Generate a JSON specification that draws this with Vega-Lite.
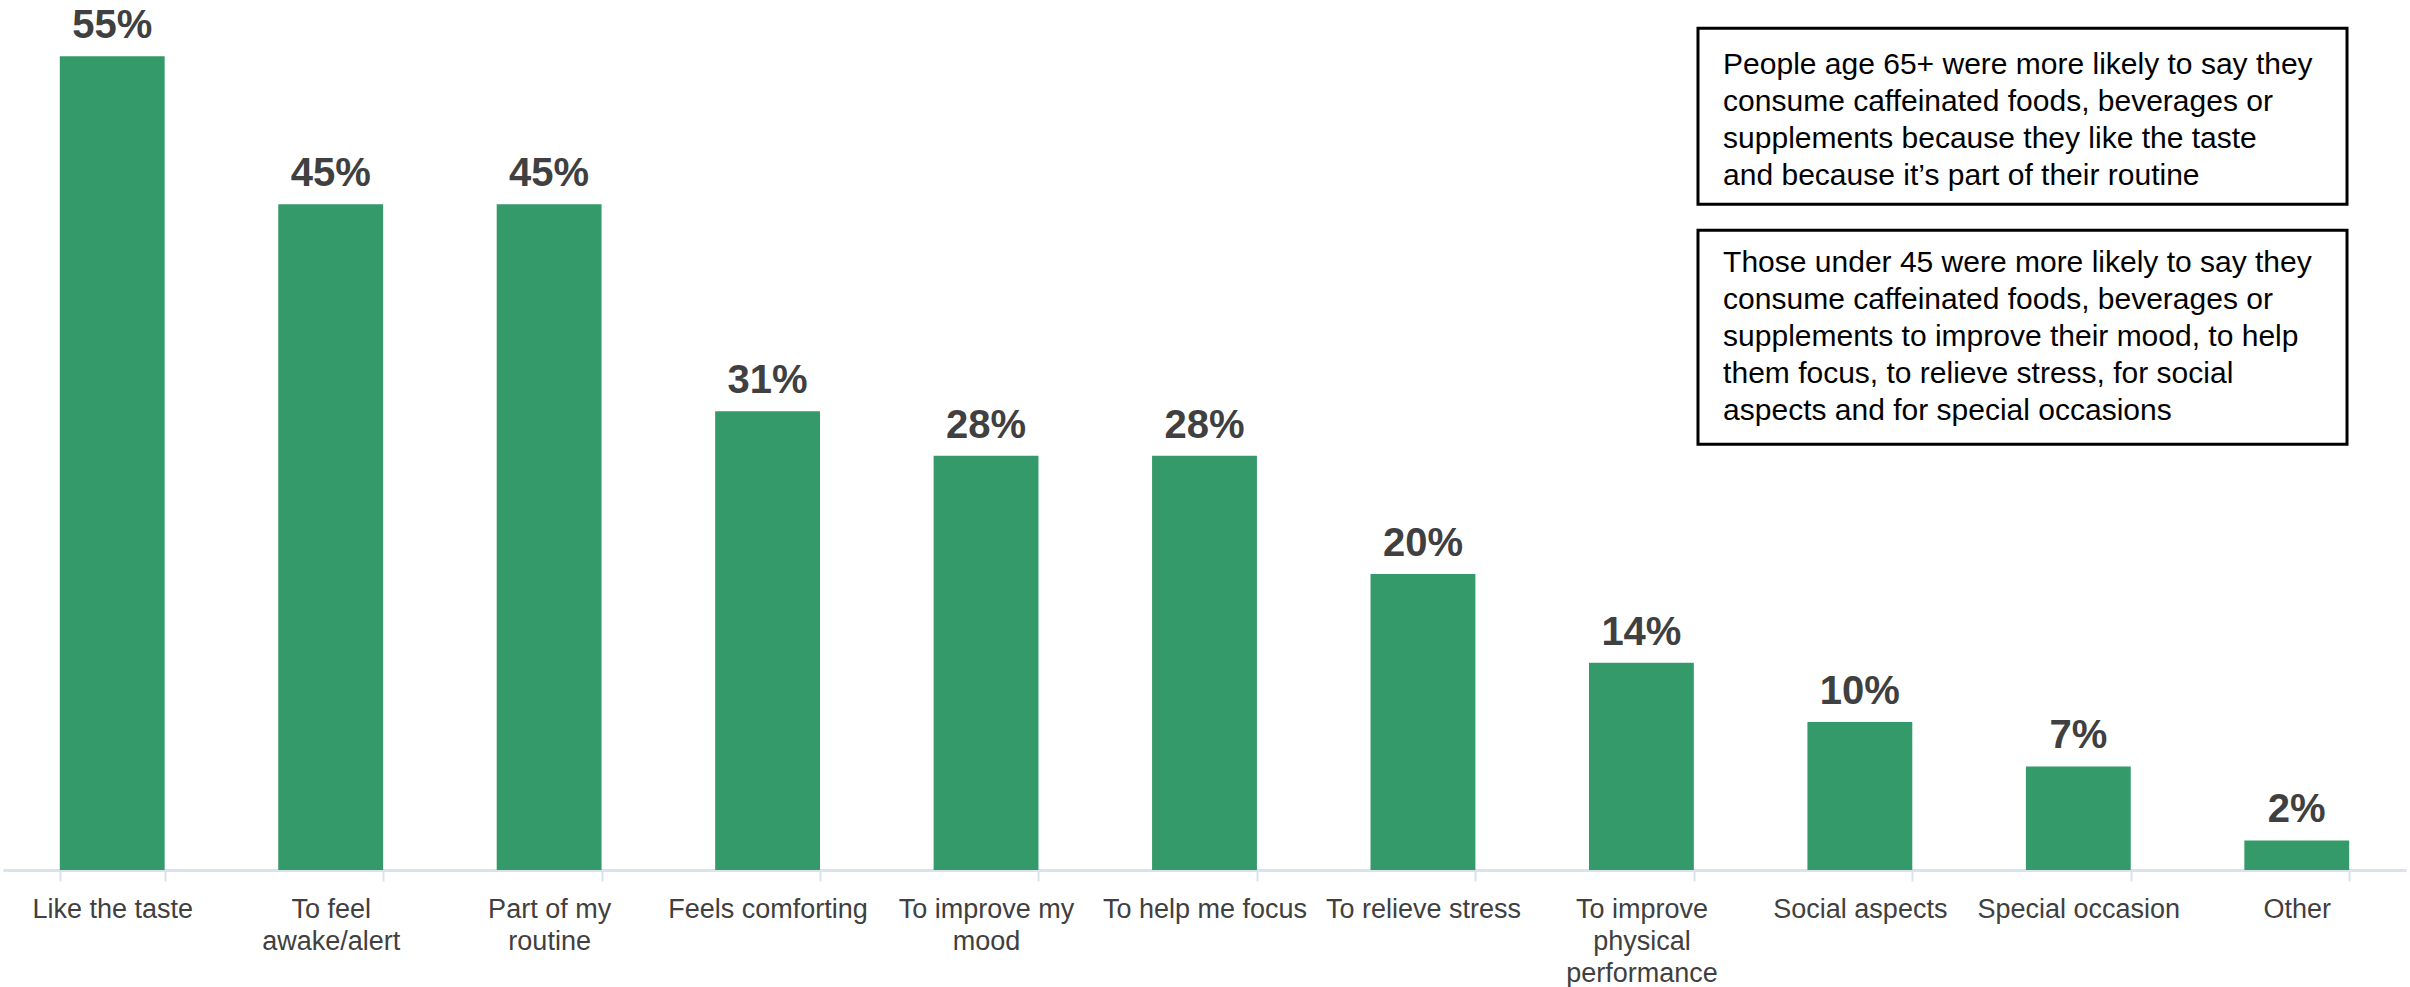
{
  "$schema": "https://vega.github.io/schema/vega-lite/v6.json",
  "autosize": {"type": "none"},
  "width": 2403,
  "height": 870,
  "padding": {"left": 3, "top": 0, "right": 4, "bottom": 117},
  "background": "white",
  "config": {"view": {"stroke": null}},
  "datasets": {
    "bars": [
      {"reason": "Like the taste", "pct": 0.55},
      {"reason": "To feel|awake/alert", "pct": 0.45},
      {"reason": "Part of my|routine", "pct": 0.45},
      {"reason": "Feels comforting", "pct": 0.31},
      {"reason": "To improve my|mood", "pct": 0.28},
      {"reason": "To help me focus", "pct": 0.28},
      {"reason": "To relieve stress", "pct": 0.20},
      {"reason": "To improve|physical|performance", "pct": 0.14},
      {"reason": "Social aspects", "pct": 0.10},
      {"reason": "Special occasion", "pct": 0.07},
      {"reason": "Other", "pct": 0.02}
    ],
    "notes": [
      {"bx1": 7.759, "bx2": 10.73, "by1": 0.5689, "by2": 0.450, "tx": 7.874, "ty": 0.5441,
       "text": ["People age 65+ were  more likely to say they", "consume caffeinated foods, beverages  or", "supplements because they like the taste", "and because it’s part of their routine"]},
      {"bx1": 7.759, "bx2": 10.73, "by1": 0.4324, "by2": 0.2878, "tx": 7.874, "ty": 0.4102,
       "text": ["Those under 45 were more likely to say they", "consume caffeinated foods, beverages  or", "supplements to improve their mood, to help", "them focus, to relieve stress,  for social", "aspects and for special occasions"]}
    ]
  },
  "resolve": {"scale": {"x": "independent"}, "axis": {"x": "independent"}},
  "layer": [
    {
      "data": {"name": "bars"},
      "encoding": {
        "x": {
          "field": "reason", "type": "nominal", "sort": null,
          "scale": {"paddingInner": 0.52, "paddingOuter": 0.26},
          "axis": {
            "title": null,
            "labelAngle": 0,
            "labelExpr": "(!isString(datum.value) || datum.label == 'undefined') ? '' : split(datum.value, '|')",
            "labelFont": "Liberation Sans",
            "labelFontSize": 27,
            "labelLineHeight": 32,
            "labelColor": "#404040",
            "labelBaseline": "top",
            "labelPadding": 15,
            "labelOverlap": false,
            "labelLimit": 400,
            "labelFlush": false,
            "domainColor": "#D9E2EE",
            "domainWidth": 3,
            "tickColor": "#D9E2EE",
            "tickWidth": 2,
            "tickSize": 11,
            "tickBand": "extent"
          }
        },
        "y": {
          "field": "pct", "type": "quantitative",
          "scale": {"domain": [0, 0.588], "nice": false, "zero": true},
          "axis": null
        }
      },
      "layer": [
        {"mark": {"type": "bar", "color": "#349A69"}},
        {
          "mark": {"type": "text", "baseline": "alphabetic", "dy": -18, "font": "Liberation Sans", "fontSize": 40, "fontWeight": "bold", "color": "#404040"},
          "encoding": {"text": {"field": "pct", "type": "quantitative", "format": ".0%"}}
        }
      ]
    },
    {
      "data": {"name": "notes"},
      "layer": [
        {
          "mark": {"type": "rect", "fill": "white", "stroke": "black", "strokeWidth": 3},
          "encoding": {
            "x": {"field": "bx1", "type": "quantitative", "scale": {"domain": [0, 11], "nice": false, "zero": false}, "axis": null},
            "x2": {"field": "bx2"},
            "y": {"field": "by1", "type": "quantitative"},
            "y2": {"field": "by2"}
          }
        },
        {
          "mark": {"type": "text", "align": "left", "baseline": "middle", "font": "Liberation Sans", "fontSize": 30, "lineHeight": 37, "color": "black"},
          "encoding": {
            "x": {"field": "tx", "type": "quantitative", "scale": {"domain": [0, 11], "nice": false, "zero": false}, "axis": null},
            "y": {"field": "ty", "type": "quantitative"},
            "text": {"field": "text"}
          }
        }
      ]
    }
  ]
}
